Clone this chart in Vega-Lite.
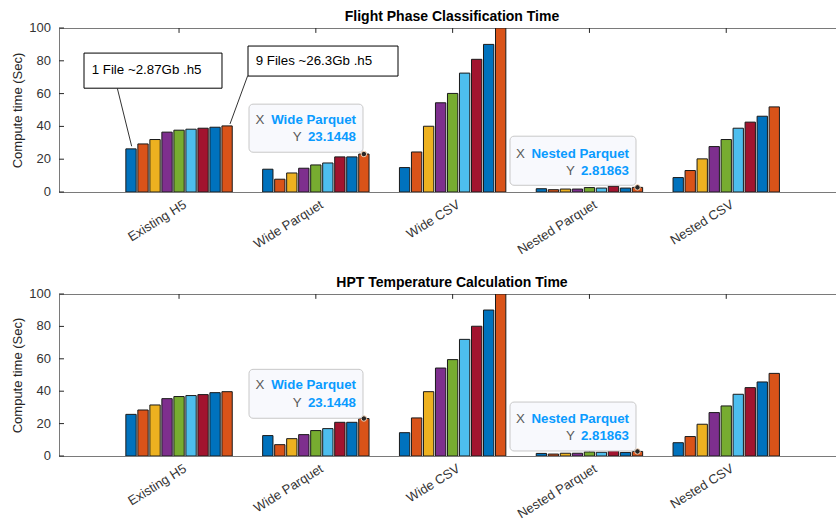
{
  "$schema": "https://vega.github.io/schema/vega-lite/v6.json",
  "padding": {"left": 10, "top": 9, "right": 0, "bottom": 0},
  "background": "white",
  "spacing": 102,
  "bounds": "flush",
  "config": {
    "font": "Liberation Sans",
    "view": {"stroke": "#7a7a7a", "strokeWidth": 1},
    "axis": {"grid": false, "domainColor": "#7a7a7a", "tickColor": "#262626", "labelColor": "#333333", "labelFont": "Liberation Sans", "titleFont": "Liberation Sans"}
  },
  "datasets": {
    "top": [
      {"cat": "Existing H5", "files": 1, "value": 26.3}, {"cat": "Existing H5", "files": 2, "value": 29.3}, {"cat": "Existing H5", "files": 3, "value": 32.0}, {"cat": "Existing H5", "files": 4, "value": 36.5}, {"cat": "Existing H5", "files": 5, "value": 37.7}, {"cat": "Existing H5", "files": 6, "value": 38.3}, {"cat": "Existing H5", "files": 7, "value": 38.9}, {"cat": "Existing H5", "files": 8, "value": 39.5}, {"cat": "Existing H5", "files": 9, "value": 40.3},
      {"cat": "Wide Parquet", "files": 1, "value": 13.9}, {"cat": "Wide Parquet", "files": 2, "value": 7.8}, {"cat": "Wide Parquet", "files": 3, "value": 11.6}, {"cat": "Wide Parquet", "files": 4, "value": 14.5}, {"cat": "Wide Parquet", "files": 5, "value": 16.5}, {"cat": "Wide Parquet", "files": 6, "value": 17.7}, {"cat": "Wide Parquet", "files": 7, "value": 21.4}, {"cat": "Wide Parquet", "files": 8, "value": 21.4}, {"cat": "Wide Parquet", "files": 9, "value": 23.1448},
      {"cat": "Wide CSV", "files": 1, "value": 14.9}, {"cat": "Wide CSV", "files": 2, "value": 24.4}, {"cat": "Wide CSV", "files": 3, "value": 40.1}, {"cat": "Wide CSV", "files": 4, "value": 54.4}, {"cat": "Wide CSV", "files": 5, "value": 60.1}, {"cat": "Wide CSV", "files": 6, "value": 72.5}, {"cat": "Wide CSV", "files": 7, "value": 80.9}, {"cat": "Wide CSV", "files": 8, "value": 90.0}, {"cat": "Wide CSV", "files": 9, "value": 100},
      {"cat": "Nested Parquet", "files": 1, "value": 2.0}, {"cat": "Nested Parquet", "files": 2, "value": 1.4}, {"cat": "Nested Parquet", "files": 3, "value": 1.8}, {"cat": "Nested Parquet", "files": 4, "value": 1.8}, {"cat": "Nested Parquet", "files": 5, "value": 2.7}, {"cat": "Nested Parquet", "files": 6, "value": 2.4}, {"cat": "Nested Parquet", "files": 7, "value": 3.5}, {"cat": "Nested Parquet", "files": 8, "value": 2.4}, {"cat": "Nested Parquet", "files": 9, "value": 2.81863},
      {"cat": "Nested CSV", "files": 1, "value": 8.8}, {"cat": "Nested CSV", "files": 2, "value": 13.1}, {"cat": "Nested CSV", "files": 3, "value": 20.2}, {"cat": "Nested CSV", "files": 4, "value": 27.7}, {"cat": "Nested CSV", "files": 5, "value": 32.0}, {"cat": "Nested CSV", "files": 6, "value": 38.9}, {"cat": "Nested CSV", "files": 7, "value": 42.6}, {"cat": "Nested CSV", "files": 8, "value": 46.2}, {"cat": "Nested CSV", "files": 9, "value": 51.9}
    ],
    "bottom": [
      {"cat": "Existing H5", "files": 1, "value": 25.7}, {"cat": "Existing H5", "files": 2, "value": 28.4}, {"cat": "Existing H5", "files": 3, "value": 31.5}, {"cat": "Existing H5", "files": 4, "value": 35.4}, {"cat": "Existing H5", "files": 5, "value": 36.7}, {"cat": "Existing H5", "files": 6, "value": 37.3}, {"cat": "Existing H5", "files": 7, "value": 37.9}, {"cat": "Existing H5", "files": 8, "value": 39.1}, {"cat": "Existing H5", "files": 9, "value": 39.7},
      {"cat": "Wide Parquet", "files": 1, "value": 12.6}, {"cat": "Wide Parquet", "files": 2, "value": 7.0}, {"cat": "Wide Parquet", "files": 3, "value": 10.7}, {"cat": "Wide Parquet", "files": 4, "value": 13.2}, {"cat": "Wide Parquet", "files": 5, "value": 15.7}, {"cat": "Wide Parquet", "files": 6, "value": 16.9}, {"cat": "Wide Parquet", "files": 7, "value": 20.8}, {"cat": "Wide Parquet", "files": 8, "value": 20.8}, {"cat": "Wide Parquet", "files": 9, "value": 23.1448},
      {"cat": "Wide CSV", "files": 1, "value": 14.4}, {"cat": "Wide CSV", "files": 2, "value": 23.5}, {"cat": "Wide CSV", "files": 3, "value": 39.7}, {"cat": "Wide CSV", "files": 4, "value": 54.3}, {"cat": "Wide CSV", "files": 5, "value": 59.5}, {"cat": "Wide CSV", "files": 6, "value": 72.0}, {"cat": "Wide CSV", "files": 7, "value": 80.1}, {"cat": "Wide CSV", "files": 8, "value": 90.1}, {"cat": "Wide CSV", "files": 9, "value": 100},
      {"cat": "Nested Parquet", "files": 1, "value": 1.6}, {"cat": "Nested Parquet", "files": 2, "value": 1.2}, {"cat": "Nested Parquet", "files": 3, "value": 1.7}, {"cat": "Nested Parquet", "files": 4, "value": 1.7}, {"cat": "Nested Parquet", "files": 5, "value": 2.5}, {"cat": "Nested Parquet", "files": 6, "value": 2.3}, {"cat": "Nested Parquet", "files": 7, "value": 3.3}, {"cat": "Nested Parquet", "files": 8, "value": 2.2}, {"cat": "Nested Parquet", "files": 9, "value": 2.81863},
      {"cat": "Nested CSV", "files": 1, "value": 8.2}, {"cat": "Nested CSV", "files": 2, "value": 12.0}, {"cat": "Nested CSV", "files": 3, "value": 19.6}, {"cat": "Nested CSV", "files": 4, "value": 26.8}, {"cat": "Nested CSV", "files": 5, "value": 30.9}, {"cat": "Nested CSV", "files": 6, "value": 38.1}, {"cat": "Nested CSV", "files": 7, "value": 42.2}, {"cat": "Nested CSV", "files": 8, "value": 45.7}, {"cat": "Nested CSV", "files": 9, "value": 51.0}
    ],
    "cats": [
      {"cat": "Existing H5", "top": 100, "inner": 97},
      {"cat": "Wide Parquet", "top": 100, "inner": 97},
      {"cat": "Wide CSV", "top": 100, "inner": 97},
      {"cat": "Nested Parquet", "top": 100, "inner": 97},
      {"cat": "Nested CSV", "top": 100, "inner": 97}
    ],
    "yticks": [
      {"v": 0, "x1": 0.1228, "x2": 0.1593}, {"v": 20, "x1": 0.1228, "x2": 0.1593}, {"v": 40, "x1": 0.1228, "x2": 0.1593},
      {"v": 60, "x1": 0.1228, "x2": 0.1593}, {"v": 80, "x1": 0.1228, "x2": 0.1593}, {"v": 100, "x1": 0.1228, "x2": 0.1593}
    ],
    "annTop": [
      {"role": "notebox", "x1": 0.3056, "x2": 1.3143, "y1": 63.3, "y2": 84.7},
      {"role": "notebox", "x1": 1.5044, "x2": 2.6009, "y1": 70.7, "y2": 89.0},
      {"role": "leader", "x1": 0.549, "x2": 0.654, "y1": 63.3, "y2": 27.9},
      {"role": "leader", "x1": 1.502, "x2": 1.3728, "y1": 70.9, "y2": 41.5},
      {"role": "note", "x1": 0.3618, "y1": 74.6, "label": "1 File ~2.87Gb .h5"},
      {"role": "note", "x1": 1.5607, "y1": 79.8, "label": "9 Files ~26.3Gb .h5"},
      {"role": "tipbox", "x1": 1.5117, "x2": 2.345, "y1": 24.25, "y2": 53.57},
      {"role": "key", "x1": 1.6235, "y1": 43.8, "label": "X"},
      {"role": "val", "x1": 2.2939, "y1": 43.8, "label": "Wide Parquet"},
      {"role": "key", "x1": 1.897, "y1": 33.4, "label": "Y"},
      {"role": "val", "x1": 2.2939, "y1": 33.4, "label": "23.1448"},
      {"role": "tipbox", "x1": 3.4196, "x2": 4.3406, "y1": 4.09, "y2": 34.03},
      {"role": "key", "x1": 3.5292, "y1": 23.0, "label": "X"},
      {"role": "val", "x1": 4.2895, "y1": 23.0, "label": "Nested Parquet"},
      {"role": "key", "x1": 3.8947, "y1": 12.6, "label": "Y"},
      {"role": "val", "x1": 4.2895, "y1": 12.6, "label": "2.81863"}
    ],
    "annBot": [
      {"role": "tipbox", "x1": 1.5117, "x2": 2.345, "y1": 23.3, "y2": 53.5},
      {"role": "key", "x1": 1.6235, "y1": 43.6, "label": "X"},
      {"role": "val", "x1": 2.2939, "y1": 43.6, "label": "Wide Parquet"},
      {"role": "key", "x1": 1.897, "y1": 32.5, "label": "Y"},
      {"role": "val", "x1": 2.2939, "y1": 32.5, "label": "23.1448"},
      {"role": "tipbox", "x1": 3.4196, "x2": 4.3406, "y1": 3.1, "y2": 33.3},
      {"role": "key", "x1": 3.5292, "y1": 22.7, "label": "X"},
      {"role": "val", "x1": 4.2895, "y1": 22.7, "label": "Nested Parquet"},
      {"role": "key", "x1": 3.8947, "y1": 12.2, "label": "Y"},
      {"role": "val", "x1": 4.2895, "y1": 12.2, "label": "2.81863"}
    ]
  },
  "vconcat": [
    {
      "title": {"text": "Flight Phase Classification Time", "fontSize": 14, "fontWeight": "bold", "color": "#000000", "offset": -1.5, "dx": 4},
      "width": 778,
      "height": 164,
      "layer": [
        {
          "layer": [
            {
              "data": {"name": "top"},
              "mark": {"type": "bar", "stroke": "#1a1a1a", "strokeWidth": 1, "clip": true},
              "encoding": {
                "x": {"field": "cat", "type": "nominal", "sort": ["Existing H5", "Wide Parquet", "Wide CSV", "Nested Parquet", "Nested CSV"], "scale": {"paddingInner": 0.21, "paddingOuter": 0.4486, "align": 0.5378}, "axis": {"title": null, "orient": "bottom", "labelAngle": -32, "labelFontSize": 13, "tickSize": -5, "labelPadding": 11, "labelOffset": 3}},
                "xOffset": {"field": "files", "type": "ordinal", "scale": {"paddingInner": 0.14, "paddingOuter": 0.07}},
                "y": {"field": "value", "type": "quantitative", "title": "Compute time (Sec)", "scale": {"domain": [0, 100], "nice": false}, "axis": {"labels": false, "ticks": false, "titleFontSize": 13, "titleFontWeight": "normal", "titleColor": "#262626", "titlePadding": 35}},
                "color": {"field": "files", "type": "ordinal", "scale": {"domain": [1, 2, 3, 4, 5, 6, 7, 8, 9], "range": ["#0072BD", "#D95319", "#EDB120", "#7E2F8E", "#77AC30", "#4DBEEE", "#A2142F", "#0072BD", "#D95319"]}, "legend": null}
              }
            },
            {
              "data": {"name": "top"},
              "transform": [{"filter": "datum.files == 9 && (datum.cat == 'Wide Parquet' || datum.cat == 'Nested Parquet')"}],
              "mark": {"type": "point", "filled": true, "shape": "circle", "size": 30, "fill": "#262626", "stroke": "#f4d2b5", "strokeWidth": 1, "opacity": 1},
              "encoding": {
                "x": {"field": "cat", "type": "nominal", "sort": ["Existing H5", "Wide Parquet", "Wide CSV", "Nested Parquet", "Nested CSV"]},
                "xOffset": {"field": "files", "type": "ordinal"},
                "y": {"field": "value", "type": "quantitative", "title": "Compute time (Sec)", "scale": {"domain": [0, 100], "nice": false}}
              }
            },
            {
              "data": {"name": "cats"},
              "mark": {"type": "rule", "color": "#262626", "strokeWidth": 1},
              "encoding": {
                "x": {"field": "cat", "type": "nominal", "sort": ["Existing H5", "Wide Parquet", "Wide CSV", "Nested Parquet", "Nested CSV"]},
                "y": {"field": "top", "type": "quantitative", "title": "Compute time (Sec)", "scale": {"domain": [0, 100], "nice": false}},
                "y2": {"field": "inner"}
              }
            }
          ]
        },
        {
          "layer": [
            {
              "data": {"name": "yticks"},
              "mark": {"type": "rule", "color": "#262626", "strokeWidth": 1},
              "encoding": {
                "x": {"field": "x1", "type": "quantitative", "scale": {"domain": [0.1228, 5.8099], "nice": false, "zero": false}, "axis": null},
                "x2": {"field": "x2"},
                "y": {"field": "v", "type": "quantitative", "title": "Compute time (Sec)", "scale": {"domain": [0, 100], "nice": false}}
              }
            },
            {
              "data": {"name": "yticks"},
              "mark": {"type": "text", "align": "right", "baseline": "middle", "dx": -8, "fontSize": 13, "color": "#333333"},
              "encoding": {
                "x": {"field": "x1", "type": "quantitative", "axis": null},
                "y": {"field": "v", "type": "quantitative", "title": "Compute time (Sec)", "scale": {"domain": [0, 100], "nice": false}},
                "text": {"field": "v", "type": "quantitative"}
              }
            },
            {
              "data": {"name": "annTop"},
              "transform": [{"filter": "datum.role == 'notebox'"}],
              "mark": {"type": "rect", "fill": "white", "stroke": "#000000", "strokeWidth": 1},
              "encoding": {
                "x": {"field": "x1", "type": "quantitative", "axis": null},
                "x2": {"field": "x2"},
                "y": {"field": "y1", "type": "quantitative", "title": "Compute time (Sec)", "scale": {"domain": [0, 100], "nice": false}},
                "y2": {"field": "y2"}
              }
            },
            {
              "data": {"name": "annTop"},
              "transform": [{"filter": "datum.role == 'tipbox'"}],
              "mark": {"type": "rect", "fill": "#f8f9fd", "stroke": "#c8c8c8", "strokeWidth": 1, "cornerRadius": 4},
              "encoding": {
                "x": {"field": "x1", "type": "quantitative", "axis": null},
                "x2": {"field": "x2"},
                "y": {"field": "y1", "type": "quantitative", "title": "Compute time (Sec)", "scale": {"domain": [0, 100], "nice": false}},
                "y2": {"field": "y2"}
              }
            },
            {
              "data": {"name": "annTop"},
              "transform": [{"filter": "datum.role == 'leader'"}],
              "mark": {"type": "rule", "color": "#333333", "strokeWidth": 1},
              "encoding": {
                "x": {"field": "x1", "type": "quantitative", "axis": null},
                "x2": {"field": "x2"},
                "y": {"field": "y1", "type": "quantitative", "title": "Compute time (Sec)", "scale": {"domain": [0, 100], "nice": false}},
                "y2": {"field": "y2"}
              }
            },
            {
              "data": {"name": "annTop"},
              "transform": [{"filter": "datum.role == 'note'"}],
              "mark": {"type": "text", "align": "left", "baseline": "middle", "fontSize": 13.3, "color": "#000000"},
              "encoding": {
                "x": {"field": "x1", "type": "quantitative", "axis": null},
                "y": {"field": "y1", "type": "quantitative", "title": "Compute time (Sec)", "scale": {"domain": [0, 100], "nice": false}},
                "text": {"field": "label"}
              }
            },
            {
              "data": {"name": "annTop"},
              "transform": [{"filter": "datum.role == 'key'"}],
              "mark": {"type": "text", "align": "right", "baseline": "middle", "fontSize": 13.3, "color": "#5a5a5a"},
              "encoding": {
                "x": {"field": "x1", "type": "quantitative", "axis": null},
                "y": {"field": "y1", "type": "quantitative", "title": "Compute time (Sec)", "scale": {"domain": [0, 100], "nice": false}},
                "text": {"field": "label"}
              }
            },
            {
              "data": {"name": "annTop"},
              "transform": [{"filter": "datum.role == 'val'"}],
              "mark": {"type": "text", "align": "right", "baseline": "middle", "fontSize": 13.3, "fontWeight": "bold", "color": "#0a9bff"},
              "encoding": {
                "x": {"field": "x1", "type": "quantitative", "axis": null},
                "y": {"field": "y1", "type": "quantitative", "title": "Compute time (Sec)", "scale": {"domain": [0, 100], "nice": false}},
                "text": {"field": "label"}
              }
            }
          ]
        }
      ],
      "resolve": {"scale": {"x": "independent"}}
    },
    {
      "title": {"text": "HPT Temperature Calculation Time", "fontSize": 14, "fontWeight": "bold", "color": "#000000", "offset": -1.5, "dx": 4},
      "width": 778,
      "height": 162,
      "layer": [
        {
          "layer": [
            {
              "data": {"name": "bottom"},
              "mark": {"type": "bar", "stroke": "#1a1a1a", "strokeWidth": 1, "clip": true},
              "encoding": {
                "x": {"field": "cat", "type": "nominal", "sort": ["Existing H5", "Wide Parquet", "Wide CSV", "Nested Parquet", "Nested CSV"], "scale": {"paddingInner": 0.21, "paddingOuter": 0.4486, "align": 0.5378}, "axis": {"title": null, "orient": "bottom", "labelAngle": -32, "labelFontSize": 13, "tickSize": -5, "labelPadding": 11, "labelOffset": 3}},
                "xOffset": {"field": "files", "type": "ordinal", "scale": {"paddingInner": 0.14, "paddingOuter": 0.07}},
                "y": {"field": "value", "type": "quantitative", "title": "Compute time (Sec)", "scale": {"domain": [0, 100], "nice": false}, "axis": {"labels": false, "ticks": false, "titleFontSize": 13, "titleFontWeight": "normal", "titleColor": "#262626", "titlePadding": 35}},
                "color": {"field": "files", "type": "ordinal", "scale": {"domain": [1, 2, 3, 4, 5, 6, 7, 8, 9], "range": ["#0072BD", "#D95319", "#EDB120", "#7E2F8E", "#77AC30", "#4DBEEE", "#A2142F", "#0072BD", "#D95319"]}, "legend": null}
              }
            },
            {
              "data": {"name": "bottom"},
              "transform": [{"filter": "datum.files == 9 && (datum.cat == 'Wide Parquet' || datum.cat == 'Nested Parquet')"}],
              "mark": {"type": "point", "filled": true, "shape": "circle", "size": 30, "fill": "#262626", "stroke": "#f4d2b5", "strokeWidth": 1, "opacity": 1},
              "encoding": {
                "x": {"field": "cat", "type": "nominal", "sort": ["Existing H5", "Wide Parquet", "Wide CSV", "Nested Parquet", "Nested CSV"]},
                "xOffset": {"field": "files", "type": "ordinal"},
                "y": {"field": "value", "type": "quantitative", "title": "Compute time (Sec)", "scale": {"domain": [0, 100], "nice": false}}
              }
            },
            {
              "data": {"name": "cats"},
              "mark": {"type": "rule", "color": "#262626", "strokeWidth": 1},
              "encoding": {
                "x": {"field": "cat", "type": "nominal", "sort": ["Existing H5", "Wide Parquet", "Wide CSV", "Nested Parquet", "Nested CSV"]},
                "y": {"field": "top", "type": "quantitative", "title": "Compute time (Sec)", "scale": {"domain": [0, 100], "nice": false}},
                "y2": {"field": "inner"}
              }
            }
          ]
        },
        {
          "layer": [
            {
              "data": {"name": "yticks"},
              "mark": {"type": "rule", "color": "#262626", "strokeWidth": 1},
              "encoding": {
                "x": {"field": "x1", "type": "quantitative", "scale": {"domain": [0.1228, 5.8099], "nice": false, "zero": false}, "axis": null},
                "x2": {"field": "x2"},
                "y": {"field": "v", "type": "quantitative", "title": "Compute time (Sec)", "scale": {"domain": [0, 100], "nice": false}}
              }
            },
            {
              "data": {"name": "yticks"},
              "mark": {"type": "text", "align": "right", "baseline": "middle", "dx": -8, "fontSize": 13, "color": "#333333"},
              "encoding": {
                "x": {"field": "x1", "type": "quantitative", "axis": null},
                "y": {"field": "v", "type": "quantitative", "title": "Compute time (Sec)", "scale": {"domain": [0, 100], "nice": false}},
                "text": {"field": "v", "type": "quantitative"}
              }
            },
            {
              "data": {"name": "annBot"},
              "transform": [{"filter": "datum.role == 'tipbox'"}],
              "mark": {"type": "rect", "fill": "#f8f9fd", "stroke": "#c8c8c8", "strokeWidth": 1, "cornerRadius": 4},
              "encoding": {
                "x": {"field": "x1", "type": "quantitative", "axis": null},
                "x2": {"field": "x2"},
                "y": {"field": "y1", "type": "quantitative", "title": "Compute time (Sec)", "scale": {"domain": [0, 100], "nice": false}},
                "y2": {"field": "y2"}
              }
            },
            {
              "data": {"name": "annBot"},
              "transform": [{"filter": "datum.role == 'key'"}],
              "mark": {"type": "text", "align": "right", "baseline": "middle", "fontSize": 13.3, "color": "#5a5a5a"},
              "encoding": {
                "x": {"field": "x1", "type": "quantitative", "axis": null},
                "y": {"field": "y1", "type": "quantitative", "title": "Compute time (Sec)", "scale": {"domain": [0, 100], "nice": false}},
                "text": {"field": "label"}
              }
            },
            {
              "data": {"name": "annBot"},
              "transform": [{"filter": "datum.role == 'val'"}],
              "mark": {"type": "text", "align": "right", "baseline": "middle", "fontSize": 13.3, "fontWeight": "bold", "color": "#0a9bff"},
              "encoding": {
                "x": {"field": "x1", "type": "quantitative", "axis": null},
                "y": {"field": "y1", "type": "quantitative", "title": "Compute time (Sec)", "scale": {"domain": [0, 100], "nice": false}},
                "text": {"field": "label"}
              }
            }
          ]
        }
      ],
      "resolve": {"scale": {"x": "independent"}}
    }
  ]
}
